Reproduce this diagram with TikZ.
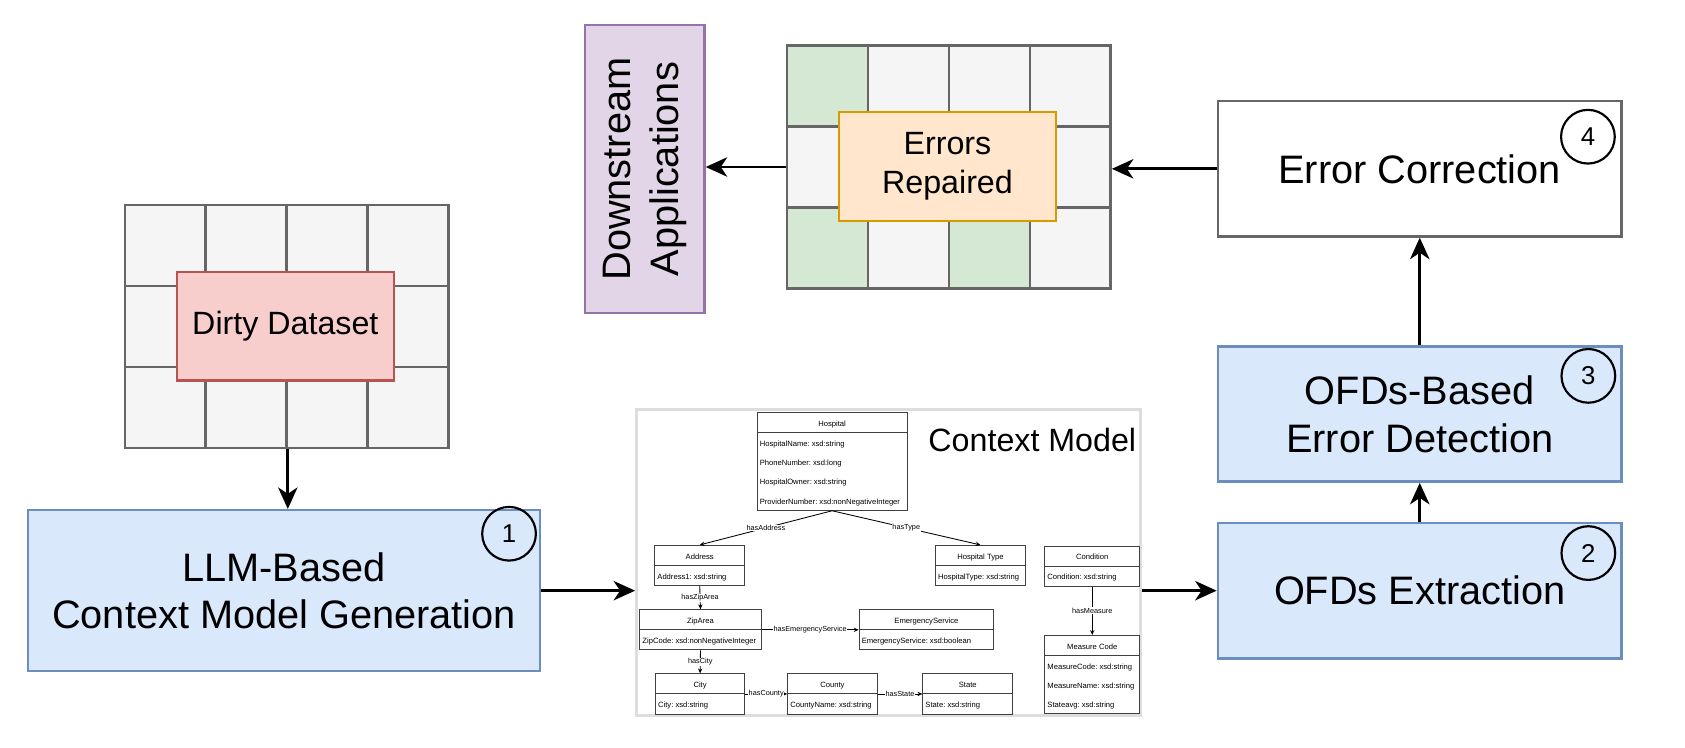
\documentclass[tikz,border=0pt]{standalone}
\usepackage{fontspec}
\setmainfont{Liberation Sans}
\usepackage{graphicx}
\usepackage{tikz}
\usetikzlibrary{arrows.meta,shapes.multipart}
\frenchspacing

\definecolor{cellgray}{HTML}{F5F5F5}
\definecolor{linegray}{HTML}{666666}
\definecolor{cellgreen}{HTML}{D5E8D4}
\definecolor{stepblue}{HTML}{DAE8FC}
\definecolor{stepblueline}{HTML}{6C8EBF}
\definecolor{dirtyred}{HTML}{F8CECC}
\definecolor{dirtyredline}{HTML}{B85450}
\definecolor{fixorange}{HTML}{FFE6CC}
\definecolor{fixorangeline}{HTML}{D79B00}
\definecolor{apppurple}{HTML}{E1D5E7}
\definecolor{apppurpleline}{HTML}{9673A6}
\definecolor{framegray}{HTML}{DDDDDD}

\begin{document}
\begin{tikzpicture}[x=1pt,y=-1pt,
	bigfont/.style={font=\fontsize{37}{44.4}\selectfont},
	cell/.style={draw=linegray,fill=cellgray,line width=2.2pt,minimum size=75.4pt,anchor=north west,inner sep=0pt},
	stepbox/.style={draw=stepblueline,fill=stepblue,line width=2.2pt,minimum width=376pt,minimum height=126pt,align=center,bigfont},
	tagbox/.style={line width=2.2pt,minimum width=202pt,minimum height=101pt,align=center,font=\fontsize{30}{36}\selectfont},
	num/.style={circle,draw,line width=2pt,minimum size=50pt,inner sep=0pt,font=\fontsize{24}{24}\selectfont},
	arr/.style={-{Stealth[length=20pt,width=18pt,inset=6pt]},line width=2.6pt},
	uml/.style={rectangle split,rectangle split parts=2,rectangle split part align={center,left},draw=black!75,fill=white,line width=0.9pt,anchor=north west,inner xsep=2.5pt,inner ysep=0pt,align=left,font=\fontsize{7.1}{17.8}\selectfont},
	rel/.style={-{Stealth[length=4.5pt,width=4pt]},line width=0.8pt},
	rellabel/.style={fill=white,inner sep=0.6pt,font=\fontsize{6.8}{7}\selectfont}]
	\useasboundingbox (0,0) rectangle (1569,696.5);
	% dirty table
	\foreach \c in {0,...,3}
		\foreach \r in {0,1,2}
			\node[cell] (d-\c-\r) at (115+\c*75.4,190+\r*75.4) {};
	\node[tagbox,draw=dirtyredline,fill=dirtyred] (dirty) at (265.7,303.9) {Dirty Dataset};
	% repaired table
	\foreach \c in {0,...,3}
		\foreach \r in {0,1,2}
			\node[cell] (e-\c-\r) at (731.5+\c*75.4,41.3+\r*75.4) {};
	\foreach \c/\r in {0/0,0/2,2/2}
		\node[cell,fill=cellgreen] at (731.5+\c*75.4,41.3+\r*75.4) {};
	\node[tagbox,draw=fixorangeline,fill=fixorange] (fixed) at (882.25,155) {Errors\\Repaired};
	\node[draw=apppurpleline,fill=apppurple,line width=2.2pt,minimum width=111.5pt,minimum height=268.4pt,bigfont] (apps) at (600.25,157.5)
		{\rotatebox{90}{\begin{tabular}{@{}c@{}}Downstream\\Applications\end{tabular}}};
	% steps
	\node[draw=linegray,line width=2.2pt,minimum width=376pt,minimum height=126pt,bigfont] (corr) at (1322,157.2) {Error Correction};
	\node[stepbox] (detect) at (1322,385.5) {OFDs-Based\\Error Detection};
	\node[stepbox] (extract) at (1322,550) {OFDs Extraction};
	\node[stepbox,minimum width=477pt,minimum height=150pt] (llm) at (264.5,550) {LLM-Based\\Context Model Generation};
	\node[num] (n1) at (474,497) {1};
	\node[num] (n2) at (1479,515) {2};
	\node[num] (n3) at (1479,350) {3};
	\node[num] (n4) at (1478.6,127.3) {4};
	% context model
	\node[draw=framegray,fill=white,line width=2.8pt,minimum width=469.2pt,minimum height=285.3pt,inner sep=0pt] (ctx) at (827.4,524) {};
	\node[anchor=base west,font=\fontsize{30}{36}\selectfont] (ctxtitle) at (861,420.2) {Context Model};
	\node[uml,minimum width=139.7pt] (hosp) at (704.5,383.9) {\strut Hospital\nodepart{two}\strut HospitalName: xsd:string\\\strut PhoneNumber: xsd:long\\\strut HospitalOwner: xsd:string\\\strut ProviderNumber: xsd:nonNegativeInteger};
	\node[uml,minimum width=83.8pt] (addr) at (609.2,507.4) {\strut Address\nodepart{two}\strut Address1: xsd:string};
	\node[uml,minimum width=83.8pt] (htype) at (870.6,507.4) {\strut Hospital Type\nodepart{two}\strut HospitalType: xsd:string};
	\node[uml,minimum width=88.4pt] (cond) at (972.4,508) {\strut Condition\nodepart{two}\strut Condition: xsd:string};
	\node[uml,minimum width=113pt] (zip) at (595.3,567.3) {\strut ZipArea\nodepart{two}\strut ZipCode: xsd:nonNegativeInteger};
	\node[uml,minimum width=125.4pt] (emerg) at (799.5,567.3) {\strut EmergencyService\nodepart{two}\strut EmergencyService: xsd:boolean};
	\node[uml,minimum width=83.1pt] (city) at (609.9,627) {\strut City\nodepart{two}\strut City: xsd:string};
	\node[uml,minimum width=83.3pt] (county) at (733,627) {\strut County\nodepart{two}\strut CountyName: xsd:string};
	\node[uml,minimum width=83.8pt] (state) at (858.8,627) {\strut State\nodepart{two}\strut State: xsd:string};
	\node[uml,minimum width=88.4pt] (meas) at (972.4,591.2) {\strut Measure Code\nodepart{two}\strut MeasureCode: xsd:string\\\strut MeasureName: xsd:string\\\strut Stateavg: xsd:string};
	\draw[rel] (hosp.south) -- node[rellabel] {hasAddress} (addr.north);
	\draw[rel] (hosp.south) -- node[rellabel] {hasType} (htype.north);
	\draw[rel] (addr.south) -- node[rellabel] {hasZipArea} (zip.north);
	\draw[rel] (zip.text split east) -- node[rellabel] {hasEmergencyService} (emerg.text split west);
	\draw[rel] (zip.south) -- node[rellabel] {hasCity} (city.north);
	\draw[rel] (city.text split east) -- node[rellabel] {hasCounty} (county.text split west);
	\draw[rel] (county.text split east) -- node[rellabel] {hasState} (state.text split west);
	\draw[rel] (cond.south) -- node[rellabel] {hasMeasure} (meas.north);
	% flow
	\draw[arr] (d-1-2.south east) -- (d-1-2.south east |- llm.north);
	\draw[arr] (llm.east) -- (llm.east -| ctx.west);
	\draw[arr] (extract.west -| ctx.east) -- (extract.west);
	\draw[arr] (extract.north) -- (detect.south);
	\draw[arr] (detect.north) -- (corr.south);
	\draw[arr] (corr.west) -- (corr.west -| e-3-1.east);
	\draw[arr] (e-0-1.west) -- (e-0-1.west -| apps.east);
\end{tikzpicture}
\end{document}
